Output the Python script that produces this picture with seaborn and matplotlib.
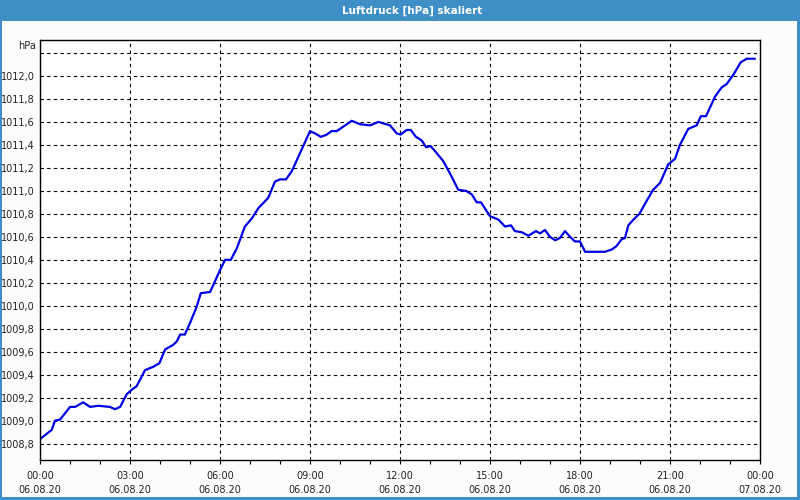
import matplotlib
matplotlib.use("Agg")
import matplotlib.pyplot as plt
import matplotlib.patches as mpatches
from matplotlib.ticker import MultipleLocator, FixedLocator
import seaborn as sns
import pandas as pd

# ---- data ----
hours = [0, 0.39, 0.5, 0.67, 1.0, 1.17, 1.44, 1.67, 1.94, 2.33,
         2.5, 2.67, 2.89, 3.06, 3.22, 3.5, 3.78, 3.98, 4.17, 4.44,
         4.56, 4.67, 4.83, 5.0, 5.22, 5.36, 5.67, 6.0, 6.17, 6.36,
         6.56, 6.83, 7.06, 7.28, 7.5, 7.61, 7.83, 8.0, 8.2, 8.39,
         8.67, 9.0, 9.17, 9.36, 9.56, 9.72, 9.89, 10.17, 10.39, 10.67,
         11.0, 11.28, 11.67, 11.89, 12.02, 12.22, 12.36, 12.53, 12.72, 12.87,
         13.02, 13.22, 13.44, 13.67, 13.94, 14.2, 14.39, 14.56, 14.7, 15.0,
         15.28, 15.5, 15.7, 15.83, 16.06, 16.28, 16.53, 16.67, 16.83, 17.0,
         17.17, 17.33, 17.5, 17.67, 17.83, 18.0, 18.17, 18.83, 19.06, 19.22,
         19.39, 19.5, 19.61, 19.78, 19.98, 20.17, 20.44, 20.67, 20.94, 21.17,
         21.33, 21.61, 21.89, 22.03, 22.2, 22.5, 22.72, 22.89, 23.11, 23.36,
         23.56, 23.83]
pressure = [1008.84, 1008.92, 1009.00, 1009.01, 1009.12, 1009.12, 1009.16, 1009.12, 1009.13, 1009.12,
            1009.10, 1009.12, 1009.23, 1009.27, 1009.30, 1009.44, 1009.47, 1009.50, 1009.62, 1009.66,
            1009.69, 1009.75, 1009.75, 1009.85, 1009.99, 1010.11, 1010.12, 1010.31, 1010.40, 1010.40,
            1010.50, 1010.69, 1010.76, 1010.85, 1010.91, 1010.94, 1011.08, 1011.10, 1011.10, 1011.17,
            1011.33, 1011.52, 1011.50, 1011.47, 1011.49, 1011.52, 1011.52, 1011.57, 1011.61, 1011.58,
            1011.57, 1011.60, 1011.57, 1011.50, 1011.49, 1011.53, 1011.53, 1011.47, 1011.44, 1011.38,
            1011.39, 1011.33, 1011.26, 1011.15, 1011.01, 1011.00, 1010.97, 1010.90, 1010.90, 1010.78,
            1010.75, 1010.69, 1010.70, 1010.65, 1010.64, 1010.61, 1010.65, 1010.63, 1010.66, 1010.60,
            1010.57, 1010.59, 1010.65, 1010.60, 1010.56, 1010.56, 1010.47, 1010.47, 1010.49, 1010.52,
            1010.58, 1010.59, 1010.70, 1010.75, 1010.80, 1010.89, 1011.01, 1011.07, 1011.23, 1011.28,
            1011.40, 1011.54, 1011.57, 1011.65, 1011.65, 1011.82, 1011.90, 1011.93, 1012.01, 1012.12,
            1012.15, 1012.15]

xtick_hours = [0, 3, 6, 9, 12, 15, 18, 21, 24]
xtick_labels = ["00:00\n06.08.20", "03:00\n06.08.20", "06:00\n06.08.20",
                "09:00\n06.08.20", "12:00\n06.08.20", "15:00\n06.08.20",
                "18:00\n06.08.20", "21:00\n06.08.20", "00:00\n07.08.20"]
ytick_values = [1008.8, 1009.0, 1009.2, 1009.4, 1009.6, 1009.8, 1010.0, 1010.2,
                1010.4, 1010.6, 1010.8, 1011.0, 1011.2, 1011.4, 1011.6, 1011.8,
                1012.0, 1012.2]
ytick_labels = ["1008,8", "1009,0", "1009,2", "1009,4", "1009,6", "1009,8", "1010,0",
                "1010,2", "1010,4", "1010,6", "1010,8", "1011,0", "1011,2", "1011,4",
                "1011,6", "1011,8", "1012,0", ""]
title = "Luftdruck [hPa] skaliert"
unit = "hPa"

df = pd.DataFrame({"h": hours, "p": pressure})

sns.set_style("white")
plt.rcParams["font.family"] = ["DejaVu Sans"]

W, H = 800, 500
fig = plt.figure(figsize=(8, 5), dpi=100)
fig.patch.set_facecolor("#fbfcfb")

blue = "#3d8fc6"
# window frame
fig.patches.append(mpatches.Rectangle((0, 1 - 21 / H), 1, 21 / H, transform=fig.transFigure,
                                      facecolor=blue, edgecolor="none", zorder=0))
fig.patches.append(mpatches.Rectangle((0, 0), 2 / W, 1, transform=fig.transFigure,
                                      facecolor=blue, edgecolor="none", zorder=0))
fig.patches.append(mpatches.Rectangle((1 - 3 / W, 0), 3 / W, 1, transform=fig.transFigure,
                                      facecolor=blue, edgecolor="none", zorder=0))
fig.patches.append(mpatches.Rectangle((0, 0), 1, 3 / H, transform=fig.transFigure,
                                      facecolor=blue, edgecolor="none", zorder=0))
fig.text(412 / W, 1 - 10.5 / H, title, color="white", fontsize=7.5, fontweight="bold",
         ha="center", va="center")

ax = fig.add_axes([40 / W, 1 - 460 / H, 720 / W, 420 / H])
ax.set_facecolor("white")
sns.lineplot(data=df, x="h", y="p", ax=ax, color="#0000e6", linewidth=1.6)

ax.set_xlim(0, 24)
ax.set_ylim(1008.658, 1012.313)
ax.xaxis.set_major_locator(FixedLocator(xtick_hours))
ax.set_xticklabels(xtick_labels, fontsize=7, color="#222222", linespacing=1.45)
ax.xaxis.set_minor_locator(MultipleLocator(1))
ax.yaxis.set_major_locator(FixedLocator(ytick_values))
ax.set_yticklabels(ytick_labels, fontsize=7, color="#222222")
ax.tick_params(axis="x", which="both", direction="out", length=3, width=0.8,
               color="black", bottom=True, pad=5)
ax.tick_params(axis="y", which="both", length=0, pad=3.5)
ax.grid(True, which="major", color="black", linestyle=(0, (3, 3)), linewidth=0.8)
for s in ax.spines.values():
    s.set_visible(True)
    s.set_color("black")
    s.set_linewidth(1.0)
ax.set_xlabel("")
ax.set_ylabel("")

fig.text(36 / W, 1 - 46 / H, unit, fontsize=7, color="#222222", ha="right", va="center")

fig.savefig("out.png", dpi=100, facecolor=fig.get_facecolor())
